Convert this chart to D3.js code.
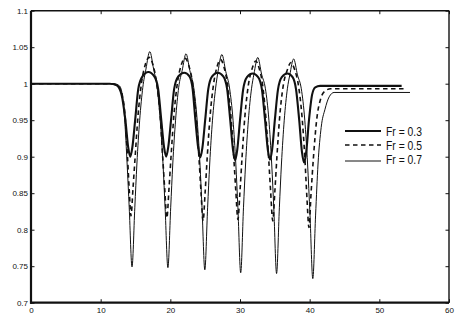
<!DOCTYPE html>
<html>
<head>
<meta charset="utf-8">
<script src="https://cdn.jsdelivr.net/npm/d3@7"></script>
<style>
  body { margin: 0; background: #fff; }
  text { font-family: 'Liberation Sans Narrow', 'Liberation Sans', Arial, sans-serif; fill: #111; }
</style>
</head>
<body>
<div id="chart"></div>
<script>
// Fr = 0.3 (thick solid)
const fr03 = [
  [0, 1.0], [11.3, 1.0], [12.3, 0.998], [13.0, 0.985], [13.55, 0.95], [13.95, 0.913], [14.25, 0.9],
  [14.55, 0.913], [14.95, 0.95], [15.4, 0.993], [16.0, 1.01], [16.85, 1.016],
  [17.7, 1.01], [18.25, 0.993], [18.7, 0.95], [19.1, 0.913], [19.4, 0.9],
  [19.7, 0.913], [20.1, 0.95], [20.55, 0.993], [21.15, 1.01], [22.0, 1.015],
  [22.75, 1.01], [23.2, 0.993], [23.6, 0.95], [24.0, 0.912], [24.3, 0.899],
  [24.6, 0.912], [25.0, 0.95], [25.45, 0.993], [26.0, 1.01], [26.8, 1.015],
  [27.6, 1.01], [28.15, 0.993], [28.6, 0.95], [29.0, 0.909], [29.3, 0.895],
  [29.6, 0.909], [30.0, 0.95], [30.45, 0.992], [31.0, 1.009], [31.8, 1.014],
  [32.6, 1.009], [33.15, 0.992], [33.6, 0.95], [34.0, 0.909], [34.3, 0.896],
  [34.6, 0.909], [35.0, 0.95], [35.45, 0.992], [36.0, 1.009], [36.8, 1.014],
  [37.55, 1.009], [38.05, 0.992], [38.5, 0.95], [38.9, 0.906], [39.2, 0.892],
  [39.5, 0.906], [39.9, 0.95], [40.35, 0.985], [40.8, 0.995], [41.5, 0.997], [53.2, 0.997]
]

// Fr = 0.5 (dashed)
const fr05 = [
  [0, 1.0], [11.6, 1.0], [12.5, 0.997], [13.2, 0.98], [13.55, 0.95], [13.85, 0.9], [14.1, 0.855], [14.35, 0.819],
  [14.65, 0.858], [14.95, 0.9], [15.35, 0.955], [15.85, 1.0], [16.4, 1.026], [16.95, 1.036],
  [17.5, 1.026], [18.05, 1.0], [18.55, 0.955], [18.9, 0.9], [19.2, 0.855], [19.5, 0.816],
  [19.8, 0.855], [20.1, 0.9], [20.5, 0.955], [21.0, 1.0], [21.55, 1.025], [22.1, 1.035],
  [22.65, 1.025], [23.2, 1.0], [23.7, 0.955], [24.1, 0.9], [24.4, 0.852], [24.7, 0.812],
  [25.0, 0.852], [25.3, 0.9], [25.7, 0.955], [26.2, 0.999], [26.7, 1.023], [27.2, 1.033],
  [27.7, 1.023], [28.2, 0.999], [28.7, 0.955], [29.1, 0.9], [29.4, 0.853], [29.7, 0.814],
  [30.0, 0.853], [30.3, 0.9], [30.7, 0.955], [31.2, 0.998], [31.75, 1.021], [32.25, 1.031],
  [32.75, 1.021], [33.25, 0.998], [33.7, 0.955], [34.1, 0.9], [34.4, 0.852], [34.7, 0.812],
  [35.0, 0.852], [35.3, 0.9], [35.7, 0.955], [36.2, 0.997], [36.8, 1.019], [37.3, 1.029],
  [37.85, 1.019], [38.4, 0.997], [38.9, 0.955], [39.3, 0.9], [39.6, 0.845], [39.9, 0.803],
  [40.2, 0.85], [40.55, 0.9], [41.0, 0.95], [41.6, 0.98], [42.2, 0.99], [43.0, 0.993], [53.7, 0.993]
]

// Fr = 0.7 (thin solid)
const fr07 = [
  [0, 1.0], [11.9, 1.0], [12.7, 0.997], [13.1, 0.985], [13.45, 0.95], [13.8, 0.89], [14.1, 0.83], [14.5, 0.749],
  [14.9, 0.83], [15.2, 0.89], [15.6, 0.95], [16.05, 0.995], [16.5, 1.02], [17.05, 1.044],
  [17.6, 1.02], [18.1, 0.995], [18.55, 0.95], [18.95, 0.89], [19.25, 0.83], [19.65, 0.748],
  [20.05, 0.83], [20.35, 0.89], [20.75, 0.95], [21.2, 0.995], [21.7, 1.018], [22.25, 1.041],
  [22.8, 1.018], [23.35, 0.995], [23.85, 0.95], [24.25, 0.89], [24.55, 0.83], [24.95, 0.745],
  [25.35, 0.83], [25.65, 0.89], [26.05, 0.95], [26.5, 0.994], [26.85, 1.017], [27.4, 1.04],
  [27.95, 1.017], [28.5, 0.994], [29.0, 0.95], [29.4, 0.89], [29.7, 0.83], [30.1, 0.741],
  [30.5, 0.83], [30.8, 0.89], [31.2, 0.95], [31.65, 0.993], [32.0, 1.013], [32.55, 1.036],
  [33.1, 1.013], [33.65, 0.993], [34.15, 0.95], [34.55, 0.89], [34.85, 0.83], [35.25, 0.74],
  [35.65, 0.83], [35.95, 0.89], [36.35, 0.95], [36.8, 0.993], [37.15, 1.012], [37.7, 1.034],
  [38.25, 1.012], [38.8, 0.993], [39.3, 0.95], [39.7, 0.89], [40.05, 0.82], [40.45, 0.733],
  [40.85, 0.82], [41.2, 0.89], [41.65, 0.94], [42.2, 0.965], [42.8, 0.982], [43.5, 0.988], [54.4, 0.988]
]

const legendLabels = ['Fr = 0.3', 'Fr = 0.5', 'Fr = 0.7']
const xTicks = [0, 10, 20, 30, 40, 50, 60]
const yTicks = [0.7, 0.75, 0.8, 0.85, 0.9, 0.95, 1, 1.05, 1.1]

const margin = { top: 10.7, left: 31, right: 27, bottom: 30.3 }
const width = 476 - margin.left - margin.right
const height = 333 - margin.top - margin.bottom

const svg = d3
  .select('#chart')
  .append('svg')
  .attr('width', 476)
  .attr('height', 333)
  .append('g')
  .attr('transform', 'translate(' + margin.left + ',' + margin.top + ')')

const xScale = d3.scaleLinear().domain([0, 60]).range([0, width])
const yScale = d3.scaleLinear().domain([0.7, 1.1]).range([height, 0])

// axes, ticks pointing inward
const xAxis = svg
  .append('g')
  .attr('transform', 'translate(0,' + height + ')')
  .call(d3.axisBottom(xScale).tickValues(xTicks).tickSizeInner(-3.5).tickSizeOuter(0).tickPadding(5))
const yAxis = svg
  .append('g')
  .call(d3.axisLeft(yScale).tickValues(yTicks).tickFormat(d3.format('')).tickSizeInner(-3.5).tickSizeOuter(0).tickPadding(3))
svg
  .append('g')
  .call(d3.axisTop(xScale).tickValues(xTicks).tickFormat('').tickSizeInner(-3.5).tickSizeOuter(0))
svg
  .append('g')
  .attr('transform', 'translate(' + width + ',0)')
  .call(d3.axisRight(yScale).tickValues(yTicks).tickFormat('').tickSizeInner(-3.5).tickSizeOuter(0))

svg.selectAll('.domain').remove()
svg.selectAll('.tick line').attr('stroke', '#111').attr('stroke-width', 1)
xAxis.selectAll('text').attr('font-size', 8).attr('fill', '#111')
yAxis.selectAll('text').attr('font-size', 8).attr('fill', '#111')

// frame
svg.append('line').attr('x1', 0).attr('x2', width).attr('y1', 0).attr('y2', 0)
  .attr('stroke', '#111').attr('stroke-width', 1.4)
svg.append('line').attr('x1', width).attr('x2', width).attr('y1', 0).attr('y2', height)
  .attr('stroke', '#111').attr('stroke-width', 1.4)
svg.append('line').attr('x1', 0).attr('x2', 0).attr('y1', 0).attr('y2', height + 1)
  .attr('stroke', '#111').attr('stroke-width', 2.2)
svg.append('line').attr('x1', -1).attr('x2', width).attr('y1', height).attr('y2', height)
  .attr('stroke', '#111').attr('stroke-width', 2.2)

const line = d3
  .line()
  .x(d => xScale(d[0]))
  .y(d => yScale(d[1]))
  .curve(d3.curveMonotoneX)

const series = [
  { data: fr03, width: 2.1, dash: null },
  { data: fr05, width: 1.6, dash: '4.5,3.5' },
  { data: fr07, width: 1, dash: null }
]

svg
  .selectAll('.curve')
  .data(series)
  .enter()
  .append('path')
  .attr('class', 'curve')
  .attr('d', d => line(d.data))
  .attr('fill', 'none')
  .attr('stroke', '#111')
  .attr('stroke-width', d => d.width)
  .attr('stroke-dasharray', d => d.dash)

// legend
const legendY = [131, 145, 161]
const legend = svg
  .selectAll('.legend')
  .data(series)
  .enter()
  .append('g')
  .attr('class', 'legend')
  .attr('transform', (d, i) => 'translate(0,' + (legendY[i] - margin.top) + ')')

legend
  .append('line')
  .attr('x1', 345 - margin.left)
  .attr('x2', 381 - margin.left)
  .attr('stroke', '#111')
  .attr('stroke-width', d => d.width)
  .attr('stroke-dasharray', d => d.dash)

// the original legend font is a narrow face; squeeze to its width
legend
  .append('text')
  .attr('x', 386 - margin.left)
  .attr('y', (d, i) => (i === 2 ? -2 : 0))
  .attr('dy', '0.36em')
  .attr('font-size', 13)
  .attr('textLength', 36)
  .attr('lengthAdjust', 'spacingAndGlyphs')
  .text((d, i) => legendLabels[i])
</script>
</body>
</html>
